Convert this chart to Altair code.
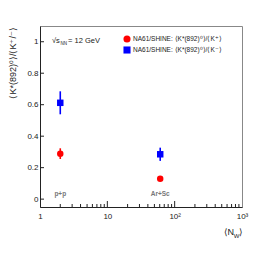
import altair as alt
import pandas as pd

# ---- data ----
systems = ["p+p", "Ar+Sc"]
n_w = [2.0, 61.0]
ratio_plus = [0.289, 0.129]
err_plus = [0.034, 0.012]
ratio_minus = [0.612, 0.285]
err_minus = [0.073, 0.042]
series_plus = "NA61/SHINE: ⟨K*(892)⁰⟩/⟨K⁺⟩"
series_minus = "NA61/SHINE: ⟨K*(892)⁰⟩/⟨K⁻⟩"
series_names = [series_plus, series_minus]
x_ticks = [1, 10, 100, 1000]
x_minor = [2, 3, 4, 5, 6, 7, 8, 9, 20, 30, 40, 50, 60, 70, 80, 90,
           200, 300, 400, 500, 600, 700, 800, 900]
x_major_inner = [10, 100]
y_ticks = [0, 0.2, 0.4, 0.6, 0.8, 1.0]
label_y = [0.035, 0.035]

rows = []
for i in range(len(systems)):
    rows.append(dict(sys=systems[i], nw=n_w[i], r=ratio_plus[i],
                     lo=ratio_plus[i] - err_plus[i], hi=ratio_plus[i] + err_plus[i],
                     series=series_plus))
    rows.append(dict(sys=systems[i], nw=n_w[i], r=ratio_minus[i],
                     lo=ratio_minus[i] - err_minus[i], hi=ratio_minus[i] + err_minus[i],
                     series=series_minus))
df = pd.DataFrame(rows)

W, H = 202, 181
xs = alt.Scale(type="log", domain=[1, 1000], nice=False)
ys = alt.Scale(domain=[-0.05, 1.1], nice=False, zero=False)
cscale = alt.Scale(domain=series_names, range=["#ff0000", "#0000ff"])
sscale = alt.Scale(domain=series_names, range=["circle", "square"])
FONT = "Liberation Sans"

xaxis = alt.Axis(values=x_ticks, title=None,
                 labelExpr="datum.value==100?'10²':datum.value==1000?'10³':datum.label")
yaxis = alt.Axis(values=y_ticks, title=None, format="~g")

base = alt.Chart(df)
bars = base.mark_rule(strokeWidth=1.6).encode(
    x=alt.X("nw:Q", scale=xs, axis=xaxis),
    y=alt.Y("lo:Q", scale=ys, axis=yaxis),
    y2="hi:Q",
    stroke=alt.Stroke("series:N", scale=cscale, legend=None),
)
pts = base.mark_point(filled=True, opacity=1, size=42).encode(
    x=alt.X("nw:Q", scale=xs, axis=xaxis),
    y=alt.Y("r:Q", scale=ys, axis=yaxis),
    color=alt.Color("series:N", scale=cscale, legend=None),
    shape=alt.Shape("series:N", scale=sscale, legend=None),
)

lab_df = pd.DataFrame({"sys": systems, "nw": n_w, "y": label_y})
labels = alt.Chart(lab_df).mark_text(font=FONT, fontSize=6.5, fontWeight="bold",
                                     color="#777").encode(
    x=alt.X("nw:Q", scale=xs, axis=xaxis), y=alt.Y("y:Q", scale=ys, axis=yaxis), text="sys:N")

# inward ticks
ytk = alt.Chart(pd.DataFrame({"v": y_ticks})).mark_rule(color="#222").encode(
    y=alt.Y("v:Q", scale=ys, axis=yaxis), x=alt.value(0), x2=alt.value(4))
xmaj = alt.Chart(pd.DataFrame({"v": x_major_inner})).mark_rule(color="#222").encode(
    x=alt.X("v:Q", scale=xs, axis=xaxis), y=alt.value(H), y2=alt.value(H - 6))
xmin = alt.Chart(pd.DataFrame({"v": x_minor})).mark_rule(color="#222").encode(
    x=alt.X("v:Q", scale=xs, axis=xaxis), y=alt.value(H), y2=alt.value(H - 3))

# manual legend
leg_df = pd.DataFrame({"series": series_names})
legend_layers = []
for k, name in enumerate(series_names):
    sub = alt.Chart(leg_df).transform_filter(alt.datum.series == name)
    legend_layers.append(sub.mark_point(filled=True, opacity=1, size=50).encode(
        x=alt.value(87), y=alt.value(13 + 11 * k),
        color=alt.Color("series:N", scale=cscale, legend=None),
        shape=alt.Shape("series:N", scale=sscale, legend=None)))
    legend_layers.append(sub.mark_text(font=FONT, fontSize=6.5, align="left",
                                       baseline="middle", color="#222").encode(
        x=alt.value(93), y=alt.value(13 + 11 * k), text="series:N"))

def txt(s, x, y, size, align="left", angle=0, color="#222"):
    kw = dict(text=s, font=FONT, fontSize=size, align=align, baseline="middle", color=color)
    if angle:
        kw["angle"] = angle
    return alt.Chart(pd.DataFrame({"a": [0]})).mark_text(**kw).encode(
        x=alt.value(x), y=alt.value(y))

annots = [
    txt("√s", 12, 15, 7.5),
    txt("NN", 20.5, 17.5, 4.5),
    txt("= 12 GeV", 28, 15, 7.5),
    txt("⟨K*(892)⁰⟩/⟨K⁺/⁻⟩", -27, 1, 9, align="right", angle=270),
    txt("⟨N", 194, 206, 9, align="right"),
    txt("W", 196.5, 210, 6, align="center"),
    txt("⟩", 199, 206, 9),
]

chart = alt.layer(bars, pts, labels, ytk, xmaj, xmin, *legend_layers, *annots).properties(
    width=W, height=H,
    autosize=alt.AutoSizeParams(type="none"),
    padding={"left": 32, "top": 18, "right": 20, "bottom": 44},
).configure_view(stroke="#888", strokeWidth=1).configure_axis(
    ticks=False, grid=False, labelOverlap=False, domainColor="#222",
    labelFont=FONT, labelFontSize=8, labelColor="#222", labelFlush=False,
).configure_axisX(labelPadding=5).configure_axisY(labelPadding=2)

chart.save("out.html", embed_options={"renderer": "svg", "actions": False})
